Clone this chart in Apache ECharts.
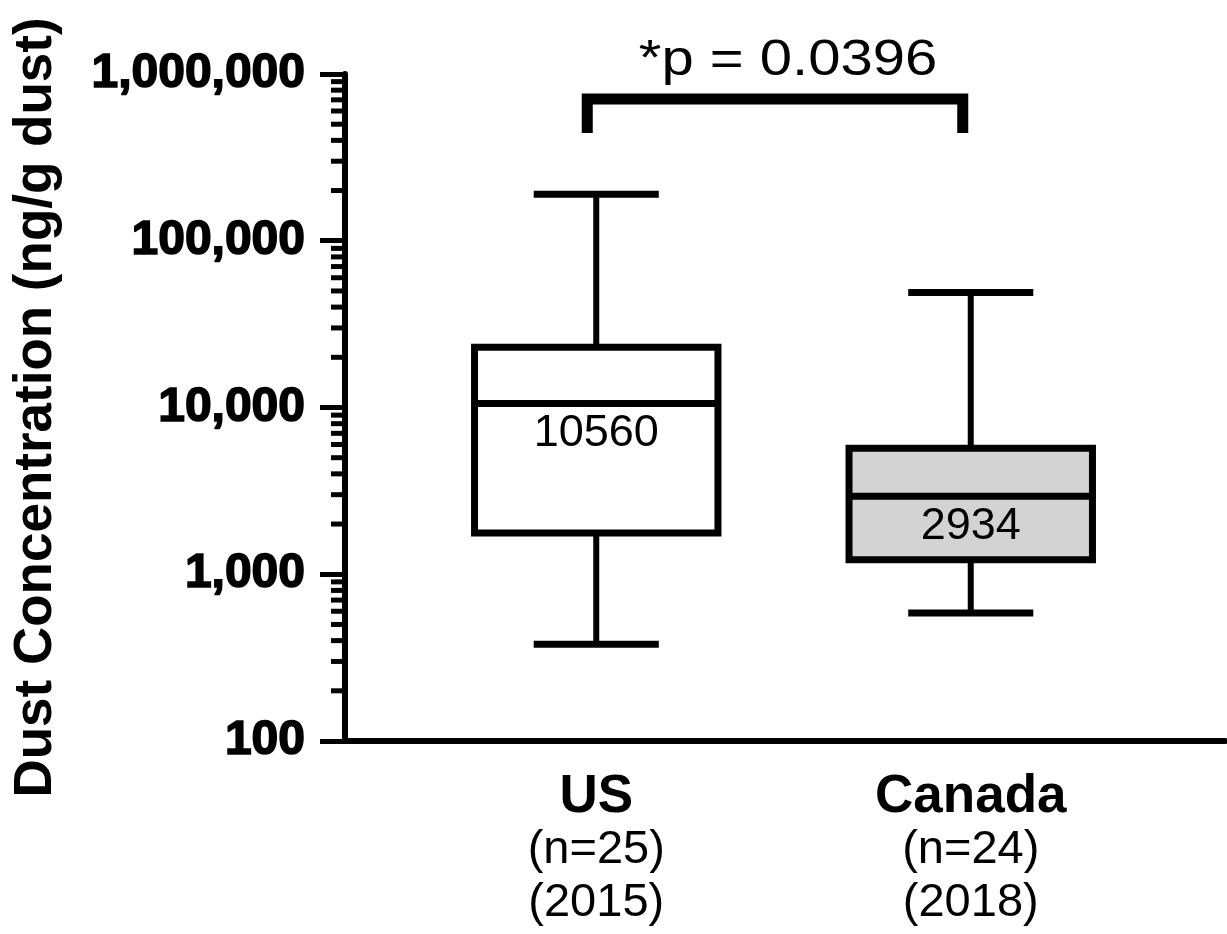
<!DOCTYPE html>
<html><head><meta charset="utf-8">
<script src="https://cdn.jsdelivr.net/npm/echarts@6/dist/echarts.min.js"></script>
<style>html,body{margin:0;padding:0;background:#fff}#c{width:1227px;height:934px}</style>
</head><body><div id="c"></div>
<script>
// ---- data ----
const categories = ['US', 'Canada'];
const sampleSizes = ['(n=25)', '(n=24)'];
const years = ['(2015)', '(2018)'];
// [min, Q1, median, Q3, max]  (ng/g dust)
const usBox = [381, 1770, 10560, 23000, 190000];
const canadaBox = [586, 1220, 2934, 5700, 49000];
const medianLabels = ['10560', '2934'];
const boxFills = ['#ffffff', '#d3d3d3'];
const yMin = 100;
const yMax = 1000000;
const minorTickDecades = [100, 1000, 10000, 100000];
const minorTickMultipliers = [2, 3, 4, 5, 6, 7, 8, 9];
const pValueText = '*p = 0.0396';
// bracket: [from category, to category, bar value, leg-end value]
const bracket = [0, 1, 708000, 443000];
const yAxisTitle = 'Dust Concentration (ng/g dust)';

// ---- build ----
const FONT = '"Liberation Sans", Arial, Helvetica, sans-serif';
const minorTicks = [];
minorTickDecades.forEach(d => minorTickMultipliers.forEach(m => minorTicks.push([0, d * m])));
const boxData = [[0].concat(usBox), [1].concat(canadaBox)];

const chart = echarts.init(document.getElementById('c'), null, {renderer: 'canvas'});
chart.setOption({
  backgroundColor: '#fff',
  animation: false,
  grid: [
    {left: 345, right: 2, top: 74, bottom: 193},
    {left: 409, width: 749, top: 74, bottom: 193}
  ],
  xAxis: [
    {gridIndex: 0, type: 'value', min: 0, max: 1,
     axisLine: {show: true, onZero: false, lineStyle: {color: '#000', width: 6}},
     axisTick: {show: false}, axisLabel: {show: false}, splitLine: {show: false}},
    {gridIndex: 1, type: 'category', data: categories,
     axisLine: {show: false}, axisTick: {show: false}, splitLine: {show: false},
     axisLabel: {
       margin: 30, interval: 0,
       formatter: (v, i) => '{a|' + v + '}\n{b|' + sampleSizes[i] + '}\n{b|' + years[i] + '}',
       rich: {
         a: {fontFamily: FONT, fontSize: 53, fontWeight: 'bold', color: '#000', lineHeight: 53, align: 'center'},
         b: {fontFamily: FONT, fontSize: 47, color: '#000', lineHeight: 53, align: 'center'}
       }
     }}
  ],
  yAxis: [
    {gridIndex: 0, type: 'log', logBase: 10, min: yMin, max: yMax,
     name: yAxisTitle, nameLocation: 'middle', nameGap: 282, nameRotate: 90,
     nameTextStyle: {fontFamily: FONT, fontSize: 53, fontWeight: 'bold', color: '#000'},
     axisLine: {show: true, lineStyle: {color: '#000', width: 6}},
     axisTick: {show: true, length: 25, lineStyle: {color: '#000', width: 5}},
     minorTick: {show: false},
     splitLine: {show: false},
     axisLabel: {margin: 40, fontFamily: FONT, fontSize: 48, fontWeight: 'bold', color: '#000',
       textBorderColor: '#000', textBorderWidth: 1.6,
       formatter: v => Number(v).toLocaleString('en-US')}},
    {gridIndex: 1, type: 'log', logBase: 10, min: yMin, max: yMax, show: false,
     splitLine: {show: false}}
  ],
  series: [
    {
      type: 'custom', name: 'minorTicks', xAxisIndex: 0, yAxisIndex: 0, clip: false,
      data: minorTicks,
      renderItem: (params, api) => {
        const p = api.coord([0, api.value(1)]);
        return {type: 'line', shape: {x1: p[0] - 14, y1: p[1], x2: p[0], y2: p[1]},
                style: {stroke: '#000', lineWidth: 5}};
      }
    },
    {
      type: 'custom', name: 'box', xAxisIndex: 1, yAxisIndex: 1, clip: false,
      data: boxData,
      renderItem: (params, api) => {
        const idx = api.value(0);
        const band = api.size([1, 1], [idx, 1000])[0];
        const bw = band * 0.65, cw = band * 0.334;
        const pMin = api.coord([idx, api.value(1)]);
        const pQ1 = api.coord([idx, api.value(2)]);
        const pMed = api.coord([idx, api.value(3)]);
        const pQ3 = api.coord([idx, api.value(4)]);
        const pMax = api.coord([idx, api.value(5)]);
        const x = pMed[0];
        const ls = {stroke: '#000', lineWidth: 7};
        const ws = {stroke: '#000', lineWidth: 6};
        return {type: 'group', children: [
          {type: 'line', shape: {x1: x, y1: pQ3[1], x2: x, y2: pMax[1]}, style: ws},
          {type: 'line', shape: {x1: x - cw / 2, y1: pMax[1], x2: x + cw / 2, y2: pMax[1]}, style: ls},
          {type: 'line', shape: {x1: x, y1: pQ1[1], x2: x, y2: pMin[1]}, style: ws},
          {type: 'line', shape: {x1: x - cw / 2, y1: pMin[1], x2: x + cw / 2, y2: pMin[1]}, style: ls},
          {type: 'rect', shape: {x: x - bw / 2, y: pQ3[1], width: bw, height: pQ1[1] - pQ3[1]},
           style: {fill: boxFills[idx], stroke: '#000', lineWidth: 7}},
          {type: 'line', shape: {x1: x - bw / 2, y1: pMed[1], x2: x + bw / 2, y2: pMed[1]}, style: ls},
          {type: 'text', x: x, y: pMed[1] + 30,
           style: {text: medianLabels[idx], fill: '#000', font: '45px ' + FONT, align: 'center', verticalAlign: 'middle'}}
        ]};
      }
    },
    {
      type: 'custom', name: 'bracket', xAxisIndex: 1, yAxisIndex: 1, clip: false,
      data: [bracket],
      renderItem: (params, api) => {
        const a = api.coord([api.value(0), api.value(2)]);
        const b = api.coord([api.value(1), api.value(2)]);
        const legEnd = api.coord([api.value(0), api.value(3)])[1];
        const xl = a[0] - 9, xr = b[0] - 8, yt = a[1];
        return {type: 'group', children: [
          {type: 'polyline', shape: {points: [[xl, legEnd], [xl, yt], [xr, yt], [xr, legEnd]]},
           style: {stroke: '#000', lineWidth: 11, fill: null, lineJoin: 'miter', lineCap: 'butt'}},
          {type: 'text', x: (xl + xr) / 2 + 13, y: yt - 38, scaleX: 1.16,
           style: {text: pValueText, fill: '#000', font: '50px ' + FONT, align: 'center', verticalAlign: 'middle'}}
        ]};
      }
    }
  ]
});
</script>
</body></html>
